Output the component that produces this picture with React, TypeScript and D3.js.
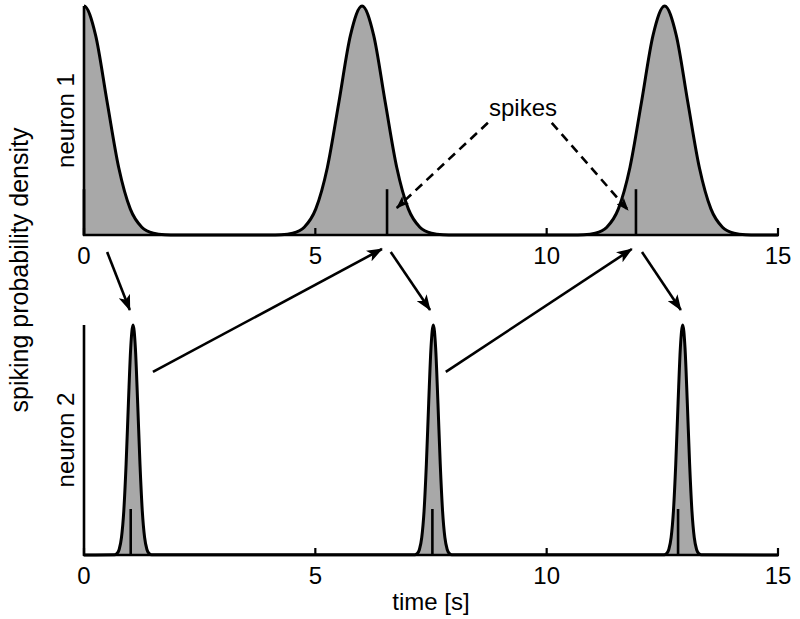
import React from "react";
import * as d3 from "d3";

// ---------- data ----------
const xTicks = [0, 5, 10, 15];
// neuron 1: broad spiking probability bumps (centers in s)
const neuron1Centers = [0, 6.01, 12.55];
const neuron1Offsets = [-2, -1.75, -1.5, -1.25, -1, -0.75, -0.5, -0.25, 0, 0.25, 0.5, 0.75, 1, 1.25, 1.5, 1.75, 2];
const neuron1Profile = [0.0002, 0.0013, 0.0076, 0.034, 0.114, 0.295, 0.581, 0.873, 1, 0.873, 0.581, 0.295, 0.114, 0.034, 0.0076, 0.0013, 0.0002];
const neuron1Spikes = [0, 6.55, 11.93];
// neuron 2: narrow bumps
const neuron2Centers = [1.06, 7.55, 12.94];
const neuron2Offsets = [-0.4, -0.35, -0.3, -0.25, -0.2, -0.15, -0.1, -0.05, 0, 0.05, 0.1, 0.15, 0.2, 0.25, 0.3, 0.35, 0.4];
const neuron2Profile = [0.001, 0.006, 0.024, 0.076, 0.191, 0.395, 0.661, 0.902, 1, 0.902, 0.661, 0.395, 0.191, 0.076, 0.024, 0.006, 0.001];
const neuron2Spikes = [1.01, 7.53, 12.84];
const spikeHeight = 0.2;
// causal arrows (time in s): top spike -> bottom bump, bottom bump -> top spike
const downArrowsFrom = [0.5, 6.63, 12.06];
const downArrowsTo = [0.99, 7.48, 12.9];
const upArrowsFrom = [1.49, 7.82];
const upArrowsTo = [6.44, 11.84];
// dashed "spikes" annotation arrows
const dashFrom = [8.73, 10.11];
const dashTo = [6.76, 11.76];
const dashFromLevel = [0.49, 0.49];
const dashToLevel = [0.118, 0.109];

// ---------- layout ----------
const W = 800, H = 619;
const x = d3.scaleLinear().domain([0, 15]).range([84, 778]);
const yTop = d3.scaleLinear().domain([0, 1]).range([235, 6]);
const yBot = d3.scaleLinear().domain([0, 1]).range([555, 325]);
const FONT = "'Liberation Sans', Arial, Helvetica, sans-serif";
const FILL = "#a8a8a8";
const FS = 24;

type P = { t: number; v: number };
function buildSeries(centers: number[], offsets: number[], profile: number[], extra: P[]): P[] {
  const pts: P[] = [...extra];
  centers.forEach((c) => offsets.forEach((o, i) => pts.push({ t: c + o, v: profile[i] })));
  return pts.sort((a, b) => a.t - b.t);
}

const series1 = buildSeries(neuron1Centers, neuron1Offsets, neuron1Profile, [{ t: 15, v: 0 }]);
const series2 = buildSeries(neuron2Centers, neuron2Offsets, neuron2Profile, [{ t: 0, v: 0 }, { t: 15, v: 0 }]);

function Panel({ data, y, spikes, id }: { data: P[]; y: d3.ScaleLinear<number, number>; spikes: number[]; id: string }) {
  const area = d3.area<P>().x((d) => x(d.t)).y0(y(0)).y1((d) => y(d.v)).curve(d3.curveMonotoneX);
  const line = d3.line<P>().x((d) => x(d.t)).y((d) => y(d.v)).curve(d3.curveMonotoneX);
  const y0 = y(0);
  return (
    <g>
      <defs>
        <clipPath id={id}>
          <rect x={x(0)} y={0} width={x(15) - x(0)} height={H} />
        </clipPath>
      </defs>
      <g clipPath={`url(#${id})`}>
        <path d={area(data) || ""} fill={FILL} />
        <path d={line(data) || ""} fill="none" stroke="#000" strokeWidth={3} strokeLinejoin="round" />
      </g>
      {spikes.map((s, i) => (
        <line key={i} x1={x(s)} x2={x(s)} y1={y0} y2={y(spikeHeight)} stroke="#000" strokeWidth={2.6} />
      ))}
      {/* axes */}
      <line x1={x(0)} x2={x(0)} y1={y0 + 1} y2={y(1)} stroke="#000" strokeWidth={2.6} />
      <line x1={x(0) - 1} x2={x(15) + 1} y1={y0} y2={y0} stroke="#000" strokeWidth={2.6} />
      {xTicks.map((t) => (
        <g key={t}>
          <line x1={x(t)} x2={x(t)} y1={y0} y2={y0 - 7} stroke="#000" strokeWidth={2.2} />
          <text x={x(t)} y={y0 + 29} textAnchor="middle" fontSize={FS} fontFamily={FONT}>{t}</text>
        </g>
      ))}
    </g>
  );
}

export default function App() {
  const arrowStroke = 2.6;
  return (
    <svg width={W} height={H} style={{ position: "absolute", left: 0, top: 0, background: "#fff" }}>
      <defs>
        <marker id="ah" viewBox="0 0 16 12" markerWidth={16} markerHeight={12} refX={15} refY={6} orient="auto" markerUnits="userSpaceOnUse">
          <path d="M0,0 L16,6 L0,12 L4,6 Z" fill="#000" />
        </marker>
        <marker id="ahs" viewBox="0 0 16 12" markerWidth={13} markerHeight={10} refX={15} refY={6} orient="auto" markerUnits="userSpaceOnUse">
          <path d="M0,0 L16,6 L0,12 L4,6 Z" fill="#000" />
        </marker>
      </defs>
      <rect width={W} height={H} fill="#fff" />
      <Panel data={series1} y={yTop} spikes={neuron1Spikes} id="clipTop" />
      <Panel data={series2} y={yBot} spikes={neuron2Spikes} id="clipBot" />

      {downArrowsFrom.map((f, i) => (
        <line key={"d" + i} x1={x(f)} y1={yTop(0) + 17} x2={x(downArrowsTo[i])} y2={yBot(1) - 15}
          stroke="#000" strokeWidth={arrowStroke} markerEnd="url(#ah)" />
      ))}
      {upArrowsFrom.map((f, i) => (
        <line key={"u" + i} x1={x(f)} y1={yBot(0.796)} x2={x(upArrowsTo[i])} y2={yTop(0) + 14}
          stroke="#000" strokeWidth={arrowStroke} markerEnd="url(#ah)" />
      ))}
      {dashFrom.map((f, i) => (
        <line key={"s" + i} x1={x(f)} y1={yTop(dashFromLevel[i])} x2={x(dashTo[i])} y2={yTop(dashToLevel[i])}
          stroke="#000" strokeWidth={2.6} strokeDasharray="9 6" markerEnd="url(#ahs)" />
      ))}
      <text x={523} y={116} textAnchor="middle" fontSize={FS} fontFamily={FONT}>spikes</text>

      <text transform={`translate(74,${(yTop(0) + yTop(1)) / 2}) rotate(-90)`} textAnchor="middle" fontSize={FS} fontFamily={FONT}>neuron 1</text>
      <text transform={`translate(74,${(yBot(0) + yBot(1)) / 2}) rotate(-90)`} textAnchor="middle" fontSize={FS} fontFamily={FONT}>neuron 2</text>
      <text transform={`translate(28,270) rotate(-90)`} textAnchor="middle" fontSize={25} fontFamily={FONT}>spiking probability density</text>
      <text x={(x(0) + x(15)) / 2} y={610} textAnchor="middle" fontSize={FS} fontFamily={FONT}>time [s]</text>
    </svg>
  );
}
